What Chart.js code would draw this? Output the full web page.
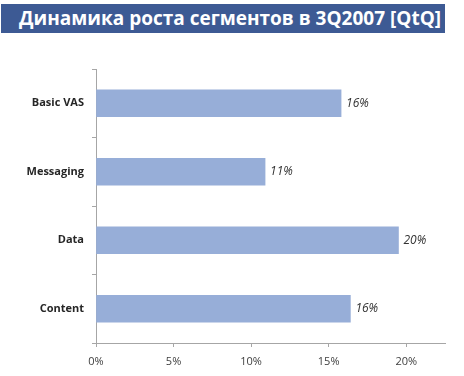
<!DOCTYPE html>
<html><head><meta charset="utf-8">
<script src="https://cdn.jsdelivr.net/npm/chart.js@4/dist/chart.umd.min.js"></script>
<style>
html,body{margin:0;padding:0;background:#fff;}
#wrap{position:relative;width:464px;height:376px;}
#title{position:absolute;left:1px;top:4px;width:426px;padding-left:18px;height:29px;background:#3D5A94;color:#fff;
font-family:"Open Sans",sans-serif;font-weight:bold;font-size:19px;line-height:29px;text-align:left;white-space:nowrap;}
canvas{position:absolute;left:0;top:0;}
</style></head>
<body><div id="wrap"><canvas id="c" width="464" height="376"></canvas><div id="title">Динамика роста сегментов в 3Q2007 [QtQ]</div></div>
<script>
const categories = ["Basic VAS", "Messaging", "Data", "Content"];
const values = [15.8, 10.9, 19.5, 16.4];
const valueLabels = ["16%", "11%", "20%", "16%"];
const xTicks = [0, 5, 10, 15, 20];

const barLabels = {
  id: 'barLabels',
  afterDatasetsDraw(chart) {
    const ctx = chart.ctx;
    const meta = chart.getDatasetMeta(0);
    ctx.save();
    ctx.font = 'italic 12px "Open Sans", sans-serif';
    ctx.fillStyle = '#333';
    ctx.textAlign = 'left';
    ctx.textBaseline = 'middle';
    meta.data.forEach((bar, i) => {
      ctx.fillText(valueLabels[i], bar.x + 5, bar.y);
    });
    ctx.restore();
  }
};

new Chart(document.getElementById('c'), {
  type: 'bar',
  data: {
    labels: categories,
    datasets: [{ data: values, backgroundColor: '#97AED8', borderWidth: 0, barThickness: 27 }]
  },
  plugins: [barLabels],
  options: {
    indexAxis: 'y',
    responsive: false,
    animation: false,
    layout: { padding: { top: 69, right: 19, left: 0, bottom: 0 } },
    plugins: { legend: { display: false }, tooltip: { enabled: false }, title: { display: false } },
    scales: {
      x: {
        min: 0, max: 22.5,
        afterFit(s) { s.height = 33; },
        afterBuildTicks(s) { s.ticks = xTicks.map(v => ({ value: v })); },
        border: { color: '#A6A6A6', width: 1 },
        grid: { drawOnChartArea: false, color: '#A6A6A6', tickLength: 4 },
        ticks: { padding: 8, color: '#404040', font: { family: '"Open Sans", sans-serif', size: 11 }, callback: v => v + '%' }
      },
      y: {
        afterFit(s) { s.width = 96; },
        border: { color: '#A6A6A6', width: 1 },
        grid: { drawOnChartArea: false, color: '#A6A6A6', tickLength: 4, offset: true },
        ticks: { padding: 8, color: '#262626', font: { family: '"Open Sans", sans-serif', size: 11, weight: 'bold' } }
      }
    }
  }
});
</script></body></html>
